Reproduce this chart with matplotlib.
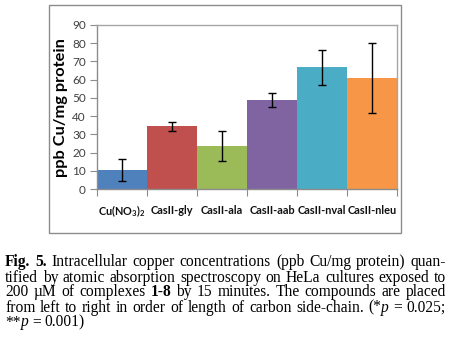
import matplotlib
matplotlib.use('Agg')
import matplotlib.pyplot as plt
from matplotlib.patches import Rectangle

plt.rcParams['mathtext.fontset'] = 'custom'
plt.rcParams['mathtext.rm'] = 'Lato:bold'
plt.rcParams['mathtext.it'] = 'Lato:bold'
plt.rcParams['mathtext.bf'] = 'Lato:bold'

categories = ['Cu(NO$_3$)$_2$', 'CasII-gly', 'CasII-ala', 'CasII-aab', 'CasII-nval', 'CasII-nleu']
values = [10.3, 34.4, 23.6, 48.9, 66.8, 60.8]
errors = [6.0, 2.5, 8.5, 3.7, 9.7, 19.3]
colors = ['#4F81BD', '#C0504D', '#9BBB59', '#8064A2', '#4BACC6', '#F79646']
yticks = list(range(0, 91, 10))
ylabel = 'ppb Cu/mg protein'

caption_lines = [
    ([('Fig. 5.', 'b'), (' Intracellular copper concentrations (ppb Cu/mg protein) quan-', 'n')], True),
    ([('tified by atomic absorption spectroscopy on HeLa cultures exposed to', 'n')], True),
    ([('200 \u00b5M of complexes ', 'n'), ('1-8', 'b'), (' by 15 minutes. The compounds are placed', 'n')], True),
    ([('from left to right in order of length of carbon side-chain. (*', 'n'), ('p', 'i'), (' = 0.025;', 'n')], True),
    ([('**', 'n'), ('p', 'i'), (' = 0.001)', 'n')], False),
]

W, H = 449, 344
fig = plt.figure(figsize=(W / 100, H / 100), dpi=100)

def fx(x):
    return x / W

def fy(y):
    return 1 - y / H

# chart border
fig.add_artist(Rectangle((fx(49), fy(233)), (401 - 49) / W, (233 - 5) / H,
                         transform=fig.transFigure, fill=False,
                         edgecolor='#8c8c8c', lw=1.0))

ax = fig.add_axes([fx(97), fy(189), (397 - 97) / W, (189 - 25) / H])
x = list(range(len(categories)))
ax.bar(x, values, width=1.0, color=colors, edgecolor='none', zorder=2)
ax.errorbar(x, values, yerr=errors, fmt='none', ecolor='black',
            elinewidth=1.0, capsize=3, capthick=1.0, zorder=3)
ax.set_xlim(-0.5, len(categories) - 0.5)
ax.set_ylim(0, 90)
ax.set_yticks(yticks)
ax.tick_params(axis='y', direction='out', length=5, color='#8c8c8c',
               labelsize=8.5, labelcolor='#404040', pad=3)
for lab in ax.get_yticklabels():
    lab.set_family('Lato')
ax.set_xticks([i - 0.5 for i in range(len(categories) + 1)])
ax.set_xticklabels([])
ax.tick_params(axis='x', direction='out', length=5, color='#8c8c8c')
for s in ax.spines.values():
    s.set_color('#a6a6a6')
    s.set_linewidth(1.0)
ax.spines['left'].set_color('#8c8c8c')
ax.spines['bottom'].set_color('#8c8c8c')

for i, c in enumerate(categories):
    ax.text(i, -22 / 164, c, transform=ax.get_xaxis_transform(), ha='center',
            va='center', family='Lato', fontweight='bold', fontsize=7.9,
            color='#111111')

fig.text(fx(61), fy(108), ylabel, rotation=90, ha='center', va='center',
         family='Lato', fontweight='bold', fontsize=11.8, color='black')

# caption (justified)
cap_fs = 11.2
renderer = fig.canvas.get_renderer()

def style(kind):
    d = dict(family='Liberation Serif', fontsize=cap_fs, color='black')
    if kind == 'b':
        d['fontweight'] = 'bold'
    if kind == 'i':
        d['fontstyle'] = 'italic'
    return d

def width(s, kind='n'):
    t = fig.text(0, 0, s, **style(kind))
    w = t.get_window_extent(renderer).width
    t.remove()
    return w

space_w = width('a a') - width('aa')
left, right = 5, 446
base0, lstep = 266.5, 15
for li, (segs, justify) in enumerate(caption_lines):
    words = [[]]
    for text, kind in segs:
        parts = text.split(' ')
        for k, p in enumerate(parts):
            if k > 0:
                words.append([])
            if p:
                words[-1].append((p, kind))
    words = [w for w in words if w]
    measured = []
    total = 0
    for w in words:
        pieces = [(p, kind, width(p, kind)) for p, kind in w]
        ww = sum(pc[2] for pc in pieces)
        measured.append((pieces, ww))
        total += ww
    if justify and len(words) > 1:
        gap = (right - left - total) / (len(words) - 1)
    else:
        gap = space_w
    xpos = left
    yb = base0 + li * lstep
    for pieces, ww in measured:
        xp = xpos
        for p, kind, wd in pieces:
            fig.text(fx(xp), fy(yb), p, ha='left', va='baseline', **style(kind))
            xp += wd
        xpos += ww + gap

fig.savefig('out.png', dpi=100, facecolor='white')
